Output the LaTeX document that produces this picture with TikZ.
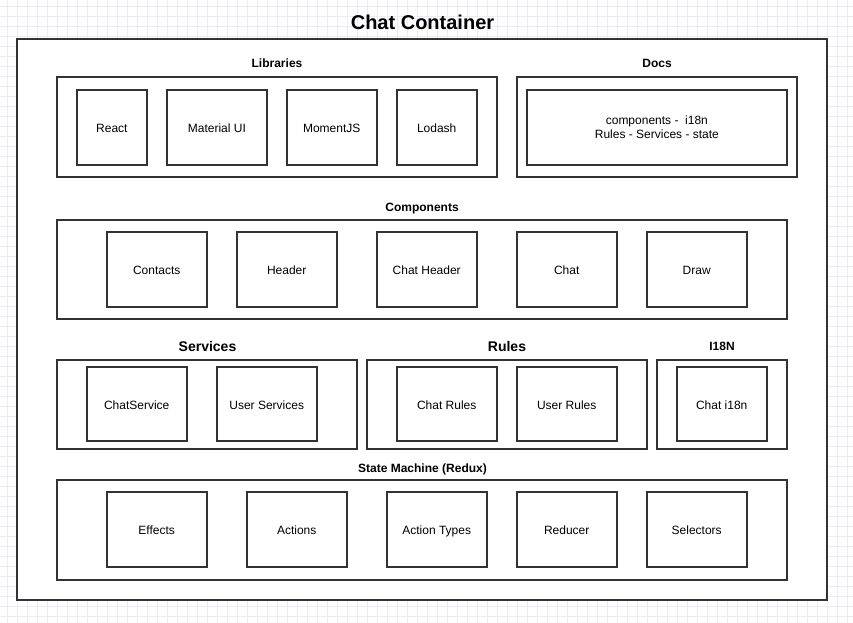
\documentclass[tikz,border=0pt]{standalone}
\usepackage{fontspec}
\setmainfont{Liberation Sans}
\definecolor{gridc}{RGB}{236,234,249}
\definecolor{linec}{RGB}{51,51,51}
\tikzset{
  frame/.style={draw=linec, line width=2pt, fill=white, rectangle, inner sep=0pt, outer sep=0pt,
    font=\fontsize{12}{14}\selectfont},
  box/.style={frame, text height=10pt, text depth=0pt},
  lbl/.style={anchor=base, inner sep=0pt, font=\fontsize{12}{14}\selectfont\bfseries},
  biglbl/.style={anchor=base, inner sep=0pt, font=\fontsize{14}{16}\selectfont\bfseries},
  titlelbl/.style={anchor=base, inner sep=0pt, font=\fontsize{20}{24}\selectfont\bfseries},
}
% \bx{name}{x1}{y1}{x2}{y2}{style}{text}
\newcommand\bx[7]{\node[#6, minimum width={(#4-#2)*1pt}, minimum height={(#5-#3)*1pt}]
  (#1) at ({(#2+#4)/2},{(#3+#5)/2}) {#7};}
\begin{document}
\begin{tikzpicture}[x=1pt,y=-1pt]
\useasboundingbox (0,0) rectangle (853,623);
\fill[white] (0,0) rectangle (853,623);
% grid
\foreach \gx in {7,17,...,847} \draw[gridc, line width=1pt] (\gx,0) -- (\gx,623);
\foreach \gy in {6.7,16.7,...,620} \draw[gridc, line width=1pt] (0,\gy) -- (853,\gy);
% title
\node[titlelbl] (title) at (422.5,30) {Chat Container};
% outer container
\bx{outer}{16.7}{39.3}{826.7}{600}{frame}{}
% Libraries
\node[lbl] (liblbl) at (277,67.5) {Libraries};
\bx{libs}{56.7}{76.7}{496.7}{176.7}{frame}{}
\bx{react}{76.7}{89.7}{147}{165}{box}{React}
\bx{mui}{166.7}{89.7}{267}{165}{box}{Material UI}
\bx{moment}{286.7}{89.7}{376.7}{165}{box}{MomentJS}
\bx{lodash}{396.7}{89.7}{476.7}{165}{box}{Lodash}
% Docs
\node[lbl] (doclbl) at (657,68) {Docs};
\bx{docs}{516.7}{76.7}{796.7}{176.7}{frame}{}
\bx{docsin}{526.7}{90}{787}{165}{frame,align=center}{components -\ \ i18n\\Rules - Services - state}
% Components
\node[lbl] (complbl) at (422,211.3) {Components};
\bx{comps}{56.7}{219.7}{786.7}{319.3}{frame}{}
\bx{contacts}{106.7}{231.7}{206.7}{306.7}{box}{Contacts}
\bx{header}{236.7}{231.7}{336.7}{306.7}{box}{Header}
\bx{chatheader}{376.7}{231.7}{476.7}{306.7}{box}{Chat Header}
\bx{chat}{516.7}{231.7}{616.7}{306.7}{box}{Chat}
\bx{draw}{646.7}{231.7}{746.7}{306.7}{box}{Draw}
% Services
\node[biglbl] (servlbl) at (207.5,351) {Services};
\bx{services}{56.7}{359.7}{356.7}{449.3}{frame}{}
\bx{chatservice}{86.7}{366.7}{186.7}{441.3}{box}{ChatService}
\bx{userservices}{216.7}{366.7}{316.7}{441.3}{box}{User Services}
% Rules
\node[biglbl] (ruleslbl) at (507,351) {Rules};
\bx{rules}{366.7}{359.7}{646.7}{449.3}{frame}{}
\bx{chatrules}{396.7}{366.7}{496.7}{441.3}{box}{Chat Rules}
\bx{userrules}{516.7}{366.7}{616.7}{441.3}{box}{User Rules}
% I18N
\node[lbl] (i18nlbl) at (722,350.5) {I18N};
\bx{i18n}{656.7}{359.7}{786.7}{449.3}{frame}{}
\bx{chati18n}{676.7}{366.7}{766.7}{441.3}{box}{Chat i18n}
% State machine
\node[lbl] (statelbl) at (422.5,472.3) {State Machine (Redux)};
\bx{state}{56.7}{480}{786.7}{580}{frame}{}
\bx{effects}{106.7}{491.7}{206.7}{566.7}{box}{Effects}
\bx{actions}{246.7}{491.7}{346.7}{566.7}{box}{Actions}
\bx{actiontypes}{386.7}{491.7}{486.7}{566.7}{box}{Action Types}
\bx{reducer}{516.7}{491.7}{616.7}{566.7}{box}{Reducer}
\bx{selectors}{646.7}{491.7}{746.7}{566.7}{box}{Selectors}
\end{tikzpicture}
\end{document}
